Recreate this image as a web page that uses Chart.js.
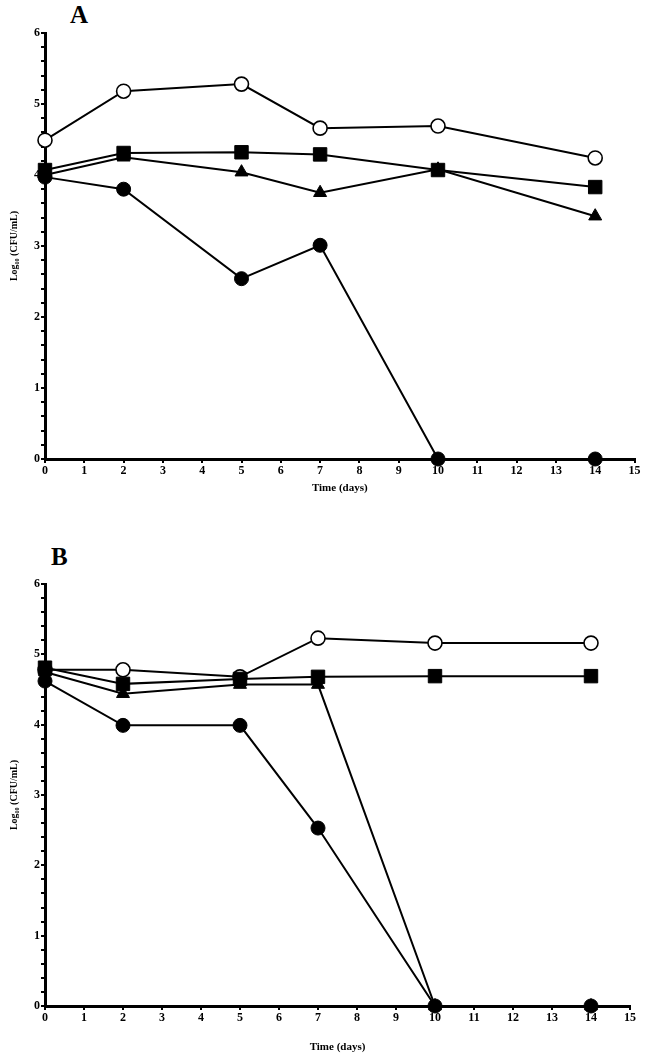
<!DOCTYPE html>
<html>
<head>
<meta charset="utf-8">
<script src="https://cdn.jsdelivr.net/npm/chart.js@4"></script>
<style>
  body { margin: 0; background: #fff; width: 645px; height: 1059px; position: relative; overflow: hidden; }
  .box { position: absolute; left: 0; width: 645px; }
  .lbl { position: absolute; font-family: "Liberation Serif", serif; font-weight: bold; font-size: 25px; color: #000; }
</style>
</head>
<body>
<div class="lbl" style="left:70px;top:1px;">A</div>
<div class="lbl" style="left:51px;top:543px;">B</div>
<div class="box" style="top:0;height:500px;"><canvas id="GraficoA"></canvas></div>
<div class="box" style="top:520px;height:539px;"><canvas id="GraficoB"></canvas></div>
<script>
var dias = [0, 2, 5, 7, 10, 14];

// painel A
var aCirculoAberto = [4.49, 5.18, 5.28, 4.66, 4.69, 4.24];
var aQuadrado      = [4.07, 4.31, 4.32, 4.29, 4.07, 3.83];
var aTriangulo     = [4.00, 4.25, 4.04, 3.75, 4.08, 3.42];
var aCirculo       = [3.97, 3.80, 2.54, 3.01, 0, 0];

// painel B
var bCirculoAberto = [4.78, 4.78, 4.68, 5.23, 5.16, 5.16];
var bQuadrado      = [4.81, 4.58, 4.65, 4.68, 4.69, 4.69];
var bTriangulo     = [4.75, 4.44, 4.57, 4.57, 0, 0];
var bCirculo       = [4.62, 3.99, 3.99, 2.53, 0, 0];

var xTicks = { min: 0, max: 15, step: 1 };
var yTicks = { min: 0, max: 6, step: 0.2 };

function Pontos(valores) {
    return dias.map(function (d, i) { return { x: d, y: valores[i] }; });
}

function Serie(nome, valores, estilo, aberto, raio) {
    return {
        label: nome,
        data: Pontos(valores),
        borderColor: "#000",
        borderWidth: 2,
        backgroundColor: aberto ? "#fff" : "#000",
        pointStyle: estilo,
        pointRadius: raio,
        pointBorderWidth: aberto ? 1.6 : 1,
        pointBorderColor: "#000",
        pointBackgroundColor: aberto ? "#fff" : "#000",
        fill: false,
        tension: 0,
        clip: false
    };
}

function CriarGrafico(id, series, topo, direita, alturaX) {
    var fonte = { family: "'Liberation Serif', serif", weight: "bold", size: 12 };
    new Chart(document.getElementById(id), {
        type: 'line',
        data: {
            datasets: [
                Serie("Triângulo", series[2], 'triangle', false, 7.5),
                Serie("Quadrado", series[1], 'rect', false, 9.5),
                Serie("Círculo", series[3], 'circle', false, 7),
                Serie("Círculo aberto", series[0], 'circle', true, 7)
            ]
        },
        options: {
            responsive: true,
            maintainAspectRatio: false,
            animation: false,
            layout: { padding: { top: topo, right: direita, left: 0, bottom: 0 } },
            plugins: { legend: { display: false }, tooltip: { enabled: false } },
            scales: {
                x: {
                    type: 'linear',
                    min: xTicks.min,
                    max: xTicks.max,
                    afterFit: function (s) { s.height = alturaX; },
                    border: { display: true, color: "#000", width: 3 },
                    grid: { display: true, drawOnChartArea: false, drawTicks: true, tickLength: 4, color: "#000", lineWidth: 2 },
                    ticks: { stepSize: xTicks.step, color: "#000", font: fonte, padding: 1, maxRotation: 0, autoSkip: false },
                    title: { display: true, text: "Time (days)", color: "#000", font: { family: "'Liberation Serif', serif", weight: "bold", size: 11 }, padding: { top: 0, bottom: 5 } }
                },
                y: {
                    min: yTicks.min,
                    max: yTicks.max,
                    afterFit: function (s) { s.width = 45; },
                    border: { display: true, color: "#000", width: 3 },
                    grid: { display: true, drawOnChartArea: false, drawTicks: true, tickLength: 4, color: "#000", lineWidth: 2 },
                    ticks: {
                        stepSize: yTicks.step,
                        autoSkip: false,
                        color: "#000",
                        font: fonte,
                        padding: 1,
                        callback: function (v) {
                            return Math.abs(v - Math.round(v)) < 1e-6 ? Math.round(v) : "";
                        }
                    },
                    title: { display: true, text: "Log\u2081\u2080 (CFU/mL)", color: "#000", font: { family: "'Liberation Serif', serif", weight: "bold", size: 10 }, padding: { top: 8, bottom: 8 } }
                }
            }
        }
    });
}

CriarGrafico("GraficoA", [aCirculoAberto, aQuadrado, aTriangulo, aCirculo], 33, 7, 41);
CriarGrafico("GraficoB", [bCirculoAberto, bQuadrado, bTriangulo, bCirculo], 64, 15, 53);
</script>
</body>
</html>
